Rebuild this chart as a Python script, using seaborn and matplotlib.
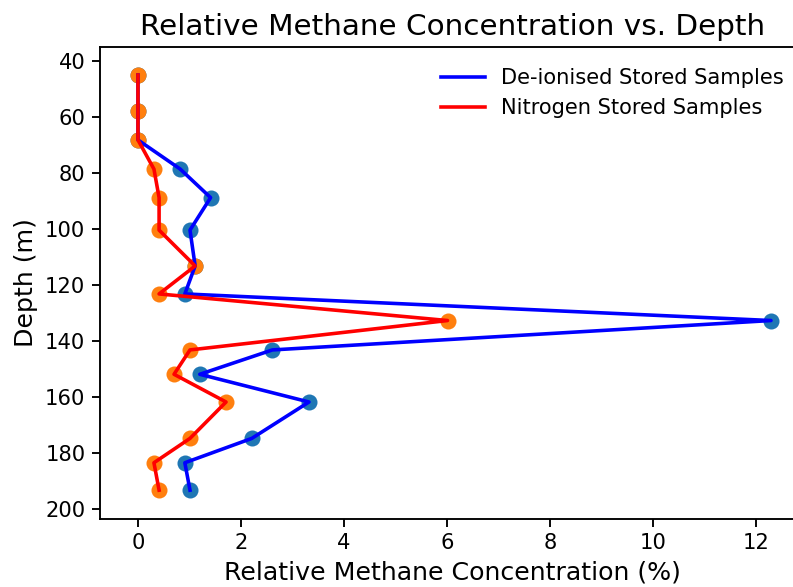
import matplotlib
matplotlib.use("Agg")
import matplotlib.pyplot as plt
import seaborn as sns
import pandas as pd

depth = [45.0, 58.0, 68.2, 78.6, 88.8, 100.4, 113.2, 123.2, 132.7, 143.2, 151.9, 161.8, 174.8, 183.5, 193.3]
deionised = [0.0, 0.0, 0.0, 0.82, 1.41, 1.01, 1.11, 0.91, 12.29, 2.61, 1.20, 3.32, 2.21, 0.91, 1.01]
nitrogen = [0.0, 0.0, 0.0, 0.31, 0.41, 0.41, 1.11, 0.41, 6.01, 1.01, 0.70, 1.71, 1.01, 0.31, 0.41]
series_labels = ["De-ionised Stored Samples", "Nitrogen Stored Samples"]
x_ticks = [0, 2, 4, 6, 8, 10, 12]
y_ticks = [40, 60, 80, 100, 120, 140, 160, 180, 200]

df = pd.DataFrame({"depth": depth, "deionised": deionised, "nitrogen": nitrogen})

plt.rcParams['font.family'] = ['DejaVu Sans']
fig = plt.figure(figsize=(793 / 136, 587 / 136), dpi=136)
ax = fig.add_axes([0.1256, 0.1158, 0.8908, 0.8046])

sns.lineplot(data=df, x="deionised", y="depth", sort=False, color="blue",
             linewidth=1.9, label=series_labels[0], ax=ax, estimator=None)
sns.lineplot(data=df, x="nitrogen", y="depth", sort=False, color="red",
             linewidth=1.9, label=series_labels[1], ax=ax, estimator=None)
sns.scatterplot(data=df, x="deionised", y="depth", color="#1f77b4", s=72,
                linewidth=0, ax=ax, zorder=1)
sns.scatterplot(data=df, x="nitrogen", y="depth", color="#ff7f0e", s=72,
                linewidth=0, ax=ax, zorder=1)

ax.set_xlim(-0.745, 12.97)
ax.set_ylim(203.6, 34.9)
ax.set_xticks(x_ticks)
ax.set_yticks(y_ticks)
ax.tick_params(labelsize=11.1, width=1.0, length=4)
for sp in ax.spines.values():
    sp.set_linewidth(1.0)
ax.set_xlabel("Relative Methane Concentration (%)", fontsize=13.4)
ax.set_ylabel("Depth (m)", fontsize=13.4)
ax.set_title("Relative Methane Concentration vs. Depth", fontsize=15.6)
ax.legend(loc="upper right", frameon=False, fontsize=11.1,
          bbox_to_anchor=(803 / 793, 1 - 49 / 587), bbox_transform=fig.transFigure,
          handlelength=2.1)

fig.savefig("out.png", dpi=136)
